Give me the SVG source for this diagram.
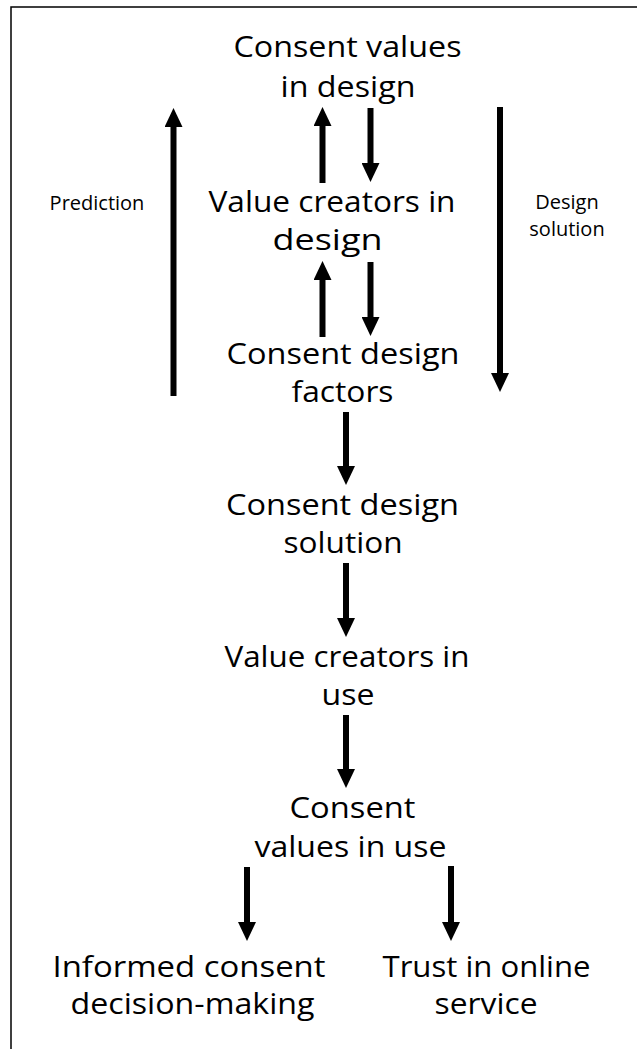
<svg xmlns="http://www.w3.org/2000/svg" width="637" height="1049" viewBox="0 0 637 1049">
<style>
.t{font-family:"Open Sans","Noto Sans","DejaVu Sans",sans-serif;font-size:30px;fill:#000;text-anchor:middle}
.s{font-family:"Open Sans","Noto Sans","DejaVu Sans",sans-serif;font-size:20px;fill:#000;text-anchor:middle}
.a{stroke:#000;stroke-width:6;fill:none;marker-end:url(#ah)}
</style>
<defs>
<marker id="ah" markerUnits="userSpaceOnUse" markerWidth="20" markerHeight="18" refX="1" refY="9" orient="auto">
<path d="M0,0 L19,9 L0,18 Z" fill="#000"/>
</marker>
</defs>
<rect x="0" y="0" width="637" height="1049" fill="#fff"/>
<rect x="11" y="7" width="700" height="1100" fill="none" stroke="#000" stroke-width="1.5"/>

<g id="connectors">
<line class="a" x1="173.5" y1="396" x2="173.5" y2="126"/>
<line class="a" x1="322.5" y1="183" x2="322.5" y2="125"/>
<line class="a" x1="370.5" y1="108" x2="370.5" y2="164"/>
<line class="a" x1="322.5" y1="337" x2="322.5" y2="279"/>
<line class="a" x1="370.5" y1="262" x2="370.5" y2="318"/>
<line class="a" x1="500" y1="107" x2="500" y2="374"/>
<line class="a" x1="346" y1="412" x2="346" y2="467"/>
<line class="a" x1="346" y1="563" x2="346" y2="619"/>
<line class="a" x1="346" y1="715" x2="346" y2="770"/>
<line class="a" x1="247" y1="867" x2="247" y2="923"/>
<line class="a" x1="451" y1="866" x2="451" y2="923"/>
</g>

<g id="consent-values-design">
<text class="t" x="347.5" y="57" textLength="228" lengthAdjust="spacingAndGlyphs">Consent values</text>
<text class="t" x="348" y="97" textLength="135" lengthAdjust="spacingAndGlyphs">in design</text>
</g>
<g id="value-creators-design">
<text class="t" x="332" y="212" textLength="247" lengthAdjust="spacingAndGlyphs">Value creators in</text>
<text class="t" x="327.5" y="250" textLength="110" lengthAdjust="spacingAndGlyphs">design</text>
</g>
<g id="consent-design-factors">
<text class="t" x="343" y="364" textLength="233" lengthAdjust="spacingAndGlyphs">Consent design</text>
<text class="t" x="342.5" y="402" textLength="102" lengthAdjust="spacingAndGlyphs">factors</text>
</g>
<g id="consent-design-solution">
<text class="t" x="342.5" y="515" textLength="233" lengthAdjust="spacingAndGlyphs">Consent design</text>
<text class="t" x="343" y="553" textLength="119" lengthAdjust="spacingAndGlyphs">solution</text>
</g>
<g id="value-creators-use">
<text class="t" x="347" y="667" textLength="245" lengthAdjust="spacingAndGlyphs">Value creators in</text>
<text class="t" x="348" y="705" textLength="53" lengthAdjust="spacingAndGlyphs">use</text>
</g>
<g id="consent-values-use">
<text class="t" x="352.5" y="818" textLength="126" lengthAdjust="spacingAndGlyphs">Consent</text>
<text class="t" x="350.5" y="857" textLength="192" lengthAdjust="spacingAndGlyphs">values in use</text>
</g>
<g id="informed-consent">
<text class="t" x="189" y="977" textLength="273" lengthAdjust="spacingAndGlyphs">Informed consent</text>
<text class="t" x="192.5" y="1014" textLength="244" lengthAdjust="spacingAndGlyphs">decision-making</text>
</g>
<g id="trust-online">
<text class="t" x="486.5" y="977" textLength="208" lengthAdjust="spacingAndGlyphs">Trust in online</text>
<text class="t" x="486" y="1014" textLength="103" lengthAdjust="spacingAndGlyphs">service</text>
</g>
<g id="label-prediction">
<text class="s" x="97" y="210">Prediction</text>
</g>
<g id="label-design-solution">
<text class="s" x="567" y="209">Design</text>
<text class="s" x="567" y="236">solution</text>
</g>
</svg>
